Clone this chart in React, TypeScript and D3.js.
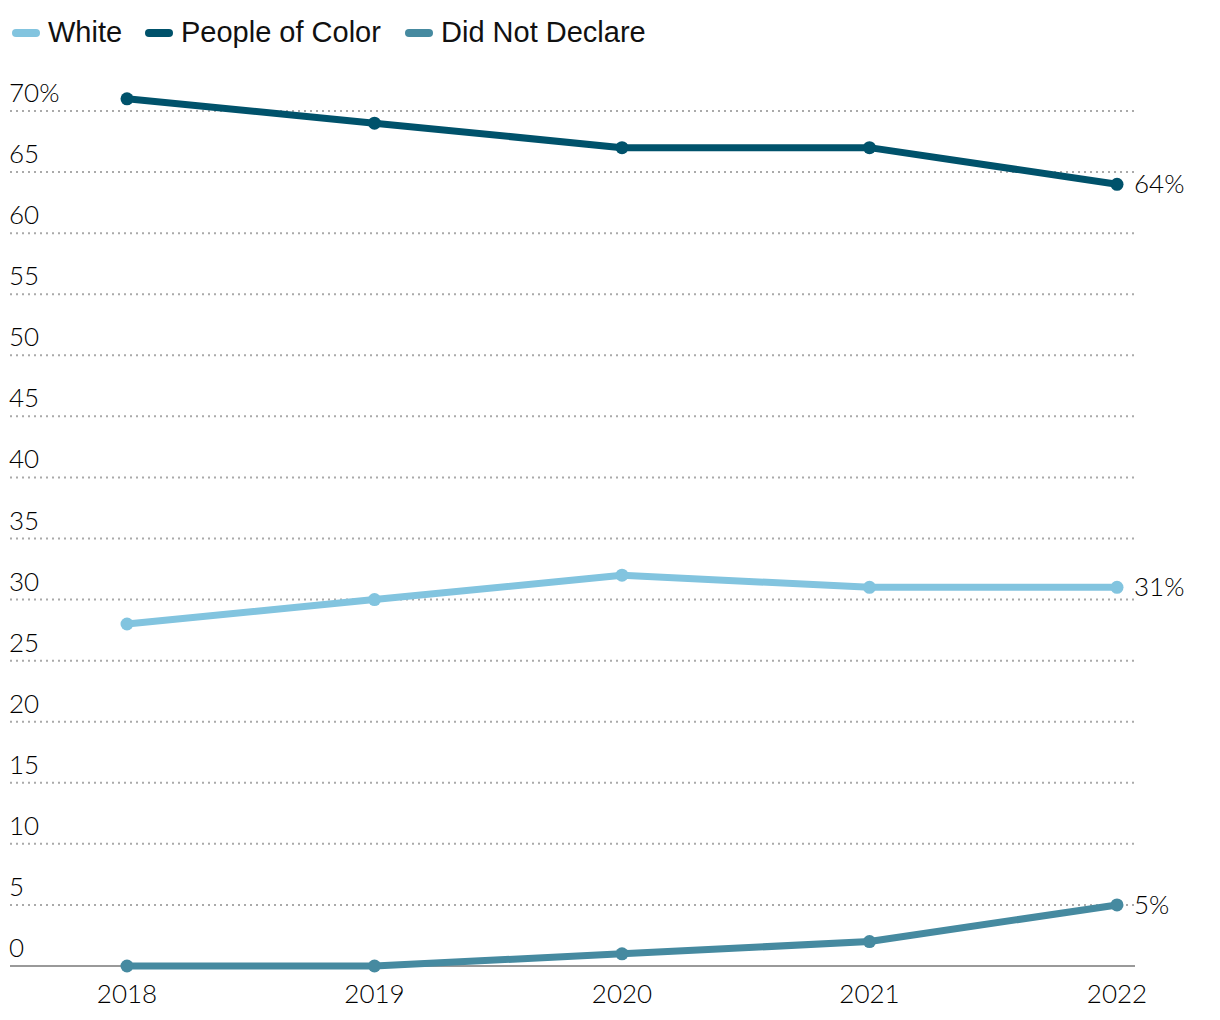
import React from "react";
import * as d3 from "d3";

const years = [2018, 2019, 2020, 2021, 2022];
const white = [28, 30, 32, 31, 31];
const poc = [71, 69, 67, 67, 64];
const didNotDeclare = [0, 0, 1, 2, 5];
const yTicks = [0, 5, 10, 15, 20, 25, 30, 35, 40, 45, 50, 55, 60, 65, 70];

const series = [
  { name: "White", values: white, color: "#82c4df" },
  { name: "People of Color", values: poc, color: "#00526b" },
  { name: "Did Not Declare", values: didNotDeclare, color: "#468aa0" },
];

const W = 1220;
const H = 1020;

export default function App() {
  const x = d3.scalePoint<number>().domain(years).range([127, 1117]);
  const y = d3.scaleLinear().domain([0, 70]).range([966, 111]);
  const line = d3
    .line<number>()
    .x((_, i) => x(years[i]) as number)
    .y((d) => y(d));

  const tickFont = "Lato, 'Open Sans', sans-serif";
  const legendTextX = [48, 181, 441];

  return (
    <svg
      width={W}
      height={H}
      style={{ position: "absolute", left: 0, top: 0, background: "#fff" }}
    >
      {/* legend */}
      {series.map((s, i) => (
        <g key={s.name}>
          <line
            x1={legendTextX[i] - 32}
            x2={legendTextX[i] - 12}
            y1={33}
            y2={33}
            stroke={s.color}
            strokeWidth={8}
            strokeLinecap="round"
          />
          <text
            x={legendTextX[i]}
            y={42}
            fontFamily="'Liberation Sans', Arial, sans-serif"
            fontSize={29}
            fill="#111"
          >
            {s.name}
          </text>
        </g>
      ))}

      {/* grid */}
      {yTicks.map((t) =>
        t === 0 ? (
          <line key={t} x1={10} x2={1135} y1={y(t)} y2={y(t)} stroke="#999" strokeWidth={2} />
        ) : (
          <line
            key={t}
            x1={10}
            x2={1135}
            y1={y(t)}
            y2={y(t)}
            stroke="#aaa"
            strokeWidth={2}
            strokeDasharray="2 4"
          />
        )
      )}
      {yTicks.map((t) => (
        <text
          key={"l" + t}
          x={9}
          y={y(t) - 9}
          fontFamily={tickFont}
          fontWeight={300}
          fontSize={26}
          fill="#000"
        >
          {t === 70 ? "70%" : t}
        </text>
      ))}

      {/* x labels */}
      {years.map((yr) => (
        <text
          key={yr}
          x={x(yr) as number}
          y={1003}
          textAnchor="middle"
          fontFamily={tickFont}
          fontWeight={300}
          fontSize={26}
          fill="#000"
        >
          {yr}
        </text>
      ))}

      {/* lines */}
      {series.map((s) => (
        <g key={s.name}>
          <path d={line(s.values) || ""} fill="none" stroke={s.color} strokeWidth={7} strokeLinejoin="round" />
          {s.values.map((v, i) => (
            <circle key={i} cx={x(years[i]) as number} cy={y(v)} r={6.5} fill={s.color} />
          ))}
          <text
            x={1134}
            y={y(s.values[s.values.length - 1]) + 9}
            fontFamily={tickFont}
            fontWeight={300}
            fontSize={26}
            fill="#000"
          >
            {s.values[s.values.length - 1]}%
          </text>
        </g>
      ))}
    </svg>
  );
}
